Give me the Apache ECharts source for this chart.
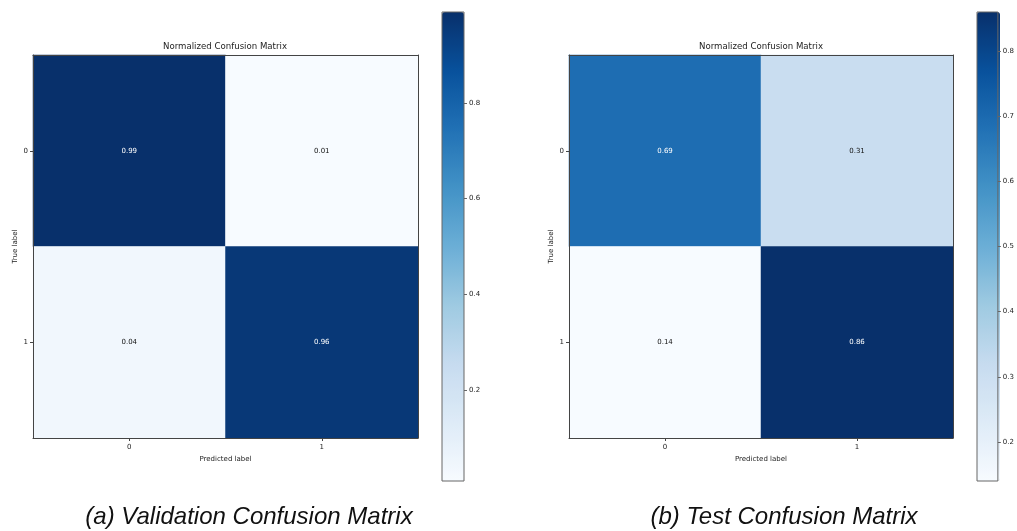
<!DOCTYPE html>
<html>
<head>
<meta charset="utf-8">
<script src="https://cdn.jsdelivr.net/npm/echarts@6/dist/echarts.min.js"></script>
<style>
  html, body { margin: 0; padding: 0; background: #fff; }
  #chart { width: 1017px; height: 531px; }
</style>
</head>
<body>
<div id="chart"></div>
<script>
// Class labels shared by both matrices
const classes = ['0', '1'];

// Normalized confusion matrices, rows = true label, columns = predicted label
const valMatrix = [
  [0.99, 0.01],
  [0.04, 0.96]
];
const testMatrix = [
  [0.69, 0.31],
  [0.14, 0.86]
];

// Colour-scale ranges and colorbar ticks
const valRange = [0.01, 0.99];
const testRange = [0.14, 0.86];
const valBarTicks = [0.2, 0.4, 0.6, 0.8];
const testBarTicks = [0.2, 0.3, 0.4, 0.5, 0.6, 0.7, 0.8];

// Matplotlib "Blues" colormap stops
const blues = ['#f7fbff', '#deebf7', '#c6dbef', '#9ecae1', '#6baed6',
               '#4292c6', '#2171b5', '#08519c', '#08306b'];

const FONT = 'DejaVu Sans';
const AXIS_COLOR = '#444';
const TEXT_COLOR = '#222';

function cells(matrix, range) {
  const thresh = range[1] / 2;
  const out = [];
  matrix.forEach((row, r) => {
    row.forEach((v, c) => {
      out.push({
        value: [c, r, v],
        label: { color: v > thresh ? '#ffffff' : '#111111' }
      });
    });
  });
  return out;
}

// Bottom / left axes with ticks and labels; top / right axes only close the frame
function matrixAxes(gridIndex) {
  const x = [
    {
      type: 'category', gridIndex, data: classes, position: 'bottom', z: 10,
      axisLine: { show: true, lineStyle: { color: AXIS_COLOR, width: 1 } },
      axisTick: { show: true, alignWithLabel: true, length: 3, lineStyle: { color: AXIS_COLOR } },
      axisLabel: { fontFamily: FONT, fontSize: 7, color: TEXT_COLOR, margin: 6 },
      splitLine: { show: false },
      name: 'Predicted label', nameLocation: 'middle', nameGap: 15,
      nameTextStyle: { fontFamily: FONT, fontSize: 7, color: TEXT_COLOR }
    },
    {
      type: 'category', gridIndex, data: classes, position: 'top', z: 10,
      axisLine: { show: true, lineStyle: { color: AXIS_COLOR, width: 1 } },
      axisTick: { show: false }, axisLabel: { show: false }, splitLine: { show: false }
    }
  ];
  const y = [
    {
      type: 'category', gridIndex, data: classes, inverse: true, position: 'left', z: 10,
      axisLine: { show: true, lineStyle: { color: AXIS_COLOR, width: 1 } },
      axisTick: { show: true, alignWithLabel: true, length: 3, lineStyle: { color: AXIS_COLOR } },
      axisLabel: { fontFamily: FONT, fontSize: 7, color: TEXT_COLOR, margin: 5 },
      splitLine: { show: false },
      name: 'True label', nameLocation: 'middle', nameGap: 14, nameRotate: 90,
      nameTextStyle: { fontFamily: FONT, fontSize: 7, color: TEXT_COLOR }
    },
    {
      type: 'category', gridIndex, data: classes, inverse: true, position: 'right', z: 10,
      axisLine: { show: true, lineStyle: { color: AXIS_COLOR, width: 1 } },
      axisTick: { show: false }, axisLabel: { show: false }, splitLine: { show: false }
    }
  ];
  return { x, y };
}

// Colorbar scale: a hidden x axis and a value axis with ticks on the right
function colorbarAxes(gridIndex, range, ticks) {
  const x = [
    { type: 'category', gridIndex, data: [''], show: false }
  ];
  const y = [
    { type: 'value', gridIndex, min: range[0], max: range[1], position: 'right', z: 12,
      axisLine: { show: false, onZero: false },
      axisTick: { show: true, length: 3, customValues: ticks, lineStyle: { color: '#666' } },
      axisLabel: { show: true, customValues: ticks, margin: 5, fontFamily: FONT, fontSize: 7,
                   color: TEXT_COLOR, formatter: v => v.toFixed(1) },
      splitLine: { show: false } }
  ];
  return { x, y };
}

const a0 = matrixAxes(0), a1 = matrixAxes(1);
const c0 = colorbarAxes(2, valRange, valBarTicks);
const c1 = colorbarAxes(3, testRange, testBarTicks);

const titleStyle = { fontFamily: FONT, fontSize: 8.6, fontWeight: 'normal', color: TEXT_COLOR };
const captionStyle = { fontFamily: 'Liberation Sans', fontSize: 24, fontStyle: 'italic',
                       fontWeight: 'normal', color: '#111' };

const barFrame = { show: true, z: 11, backgroundColor: 'transparent', borderColor: '#666', borderWidth: 1 };

const option = {
  animation: false,
  backgroundColor: '#ffffff',
  title: [
    { text: 'Normalized Confusion Matrix', left: 225, top: 42, textAlign: 'center', padding: 0, textStyle: titleStyle },
    { text: 'Normalized Confusion Matrix', left: 761, top: 42, textAlign: 'center', padding: 0, textStyle: titleStyle },
    { text: '(a) Validation Confusion Matrix', left: 249, top: 505, textAlign: 'center', padding: 0, textStyle: captionStyle },
    { text: '(b) Test Confusion Matrix', left: 784, top: 505, textAlign: 'center', padding: 0, textStyle: captionStyle }
  ],
  grid: [
    { left: 33, top: 55, width: 385, height: 383 },
    { left: 569, top: 55, width: 384, height: 383 },
    Object.assign({ left: 442, top: 12, width: 22, height: 469 }, barFrame),
    Object.assign({ left: 977, top: 12, width: 23, height: 469 }, barFrame)
  ],
  xAxis: [...a0.x, ...a1.x, ...c0.x, ...c1.x],
  yAxis: [...a0.y, ...a1.y, ...c0.y, ...c1.y],
  visualMap: [
    {
      type: 'continuous', seriesIndex: 0, min: valRange[0], max: valRange[1],
      inRange: { color: blues }, calculable: false, realtime: false, hoverLink: false,
      left: 442, top: 12, itemWidth: 22, itemHeight: 469, padding: 0,
      text: null, showLabel: false, orient: 'vertical', align: 'left'
    },
    {
      type: 'continuous', seriesIndex: 1, min: testRange[0], max: testRange[1],
      inRange: { color: blues }, calculable: false, realtime: false, hoverLink: false,
      left: 977, top: 12, itemWidth: 23, itemHeight: 469, padding: 0,
      text: null, showLabel: false, orient: 'vertical', align: 'left'
    }
  ],
  series: [
    {
      type: 'heatmap', xAxisIndex: 0, yAxisIndex: 0,
      data: cells(valMatrix, valRange),
      label: { show: true, fontFamily: FONT, fontSize: 7, formatter: p => p.value[2].toFixed(2) },
      emphasis: { disabled: true }
    },
    {
      type: 'heatmap', xAxisIndex: 2, yAxisIndex: 2,
      data: cells(testMatrix, testRange),
      label: { show: true, fontFamily: FONT, fontSize: 7, formatter: p => p.value[2].toFixed(2) },
      emphasis: { disabled: true }
    }
  ]
};

const chart = echarts.init(document.getElementById('chart'), null, { renderer: 'canvas' });
chart.setOption(option);
</script>
</body>
</html>
